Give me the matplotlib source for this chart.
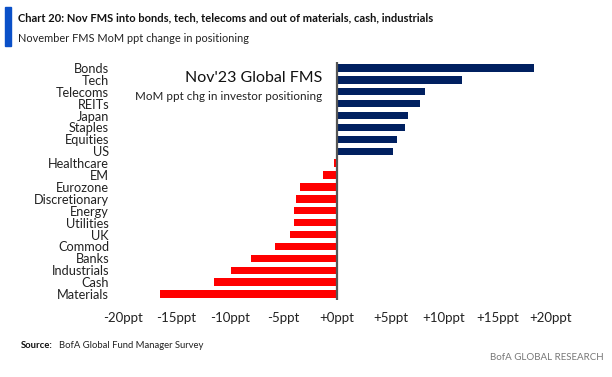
import matplotlib
matplotlib.use("Agg")
import matplotlib.pyplot as plt
from matplotlib.patches import Rectangle

# ------------------------------------------------------------
# Data: Nov'23 FMS, MoM ppt change in positioning
# ------------------------------------------------------------
categories = ["Bonds", "Tech", "Telecoms", "REITs", "Japan", "Staples",
              "Equities", "US", "Healthcare", "EM", "Eurozone",
              "Discretionary", "Energy", "Utilities", "UK", "Commod",
              "Banks", "Industrials", "Cash", "Materials"]
changes = [18.4, 11.7, 8.2, 7.8, 6.6, 6.4, 5.6, 5.2, -0.25, -1.3, -3.5,
           -3.8, -4.0, -4.0, -4.4, -5.8, -8.0, -9.9, -11.5, -16.5]
tick_vals = [-20, -15, -10, -5, 0, 5, 10, 15, 20]
tick_labels = ["-20ppt", "-15ppt", "-10ppt", "-5ppt", "+0ppt",
               "+5ppt", "+10ppt", "+15ppt", "+20ppt"]

NAVY = "#002060"
RED = "#ff0000"
plt.rcParams["font.family"] = ["Lato", "DejaVu Sans"]

W, H = 612, 377
fig = plt.figure(figsize=(W / 100, H / 100), dpi=100, facecolor="white")

# axes placed in pixel coordinates of the reference
ax = fig.add_axes([123 / W, 1 - 300 / H, 428 / W, 238 / H])
ypos = list(range(len(categories)))
colors = [NAVY if v > 0 else RED for v in changes]
ax.barh(ypos, changes, height=0.63, color=colors, zorder=2)
ax.axvline(0, color="#555555", lw=1.6, zorder=3)

ax.set_xlim(-20, 20)
ax.set_ylim(len(categories) - 0.5, -0.5)
for s in ax.spines.values():
    s.set_visible(False)
ax.set_yticks(ypos)
ax.set_yticklabels(categories, fontsize=9.2, color="#222222")
ax.set_xticks(tick_vals)
ax.set_xticklabels(tick_labels, fontsize=9.5, color="#222222")
ax.tick_params(axis="y", length=0, pad=10)
ax.tick_params(axis="x", length=0, pad=9)

# in-chart heading
fig.text(322 / W, 1 - 78 / H, "Nov'23 Global FMS", ha="right", va="center",
         fontsize=11.5, color="#111111")
fig.text(322 / W, 1 - 96 / H, "MoM ppt chg in investor positioning",
         ha="right", va="center", fontsize=8.4, color="#222222")

# header
fig.patches.append(Rectangle((5 / W, 1 - 46 / H), 6 / W, 39 / H,
                             transform=fig.transFigure, color="#0a50c8"))
fig.text(18 / W, 1 - 18 / H,
         "Chart 20: Nov FMS into bonds, tech, telecoms and out of materials, cash, industrials",
         ha="left", va="center", fontsize=8.0, fontweight="bold", color="#111111")
fig.text(18 / W, 1 - 38 / H, "November FMS MoM ppt change in positioning",
         ha="left", va="center", fontsize=7.9, color="#222222")

# footer
fig.text(21 / W, 1 - 345 / H, "Source:", ha="left", va="center",
         fontsize=6.8, fontweight="bold", color="#111111")
fig.text(59 / W, 1 - 345 / H, "BofA Global Fund Manager Survey", ha="left",
         va="center", fontsize=6.8, color="#222222")
fig.text(604 / W, 1 - 358 / H, "BofA GLOBAL RESEARCH", ha="right",
         va="center", fontsize=7.0, color="#777777")

fig.savefig("out.png", dpi=100, facecolor="white")
